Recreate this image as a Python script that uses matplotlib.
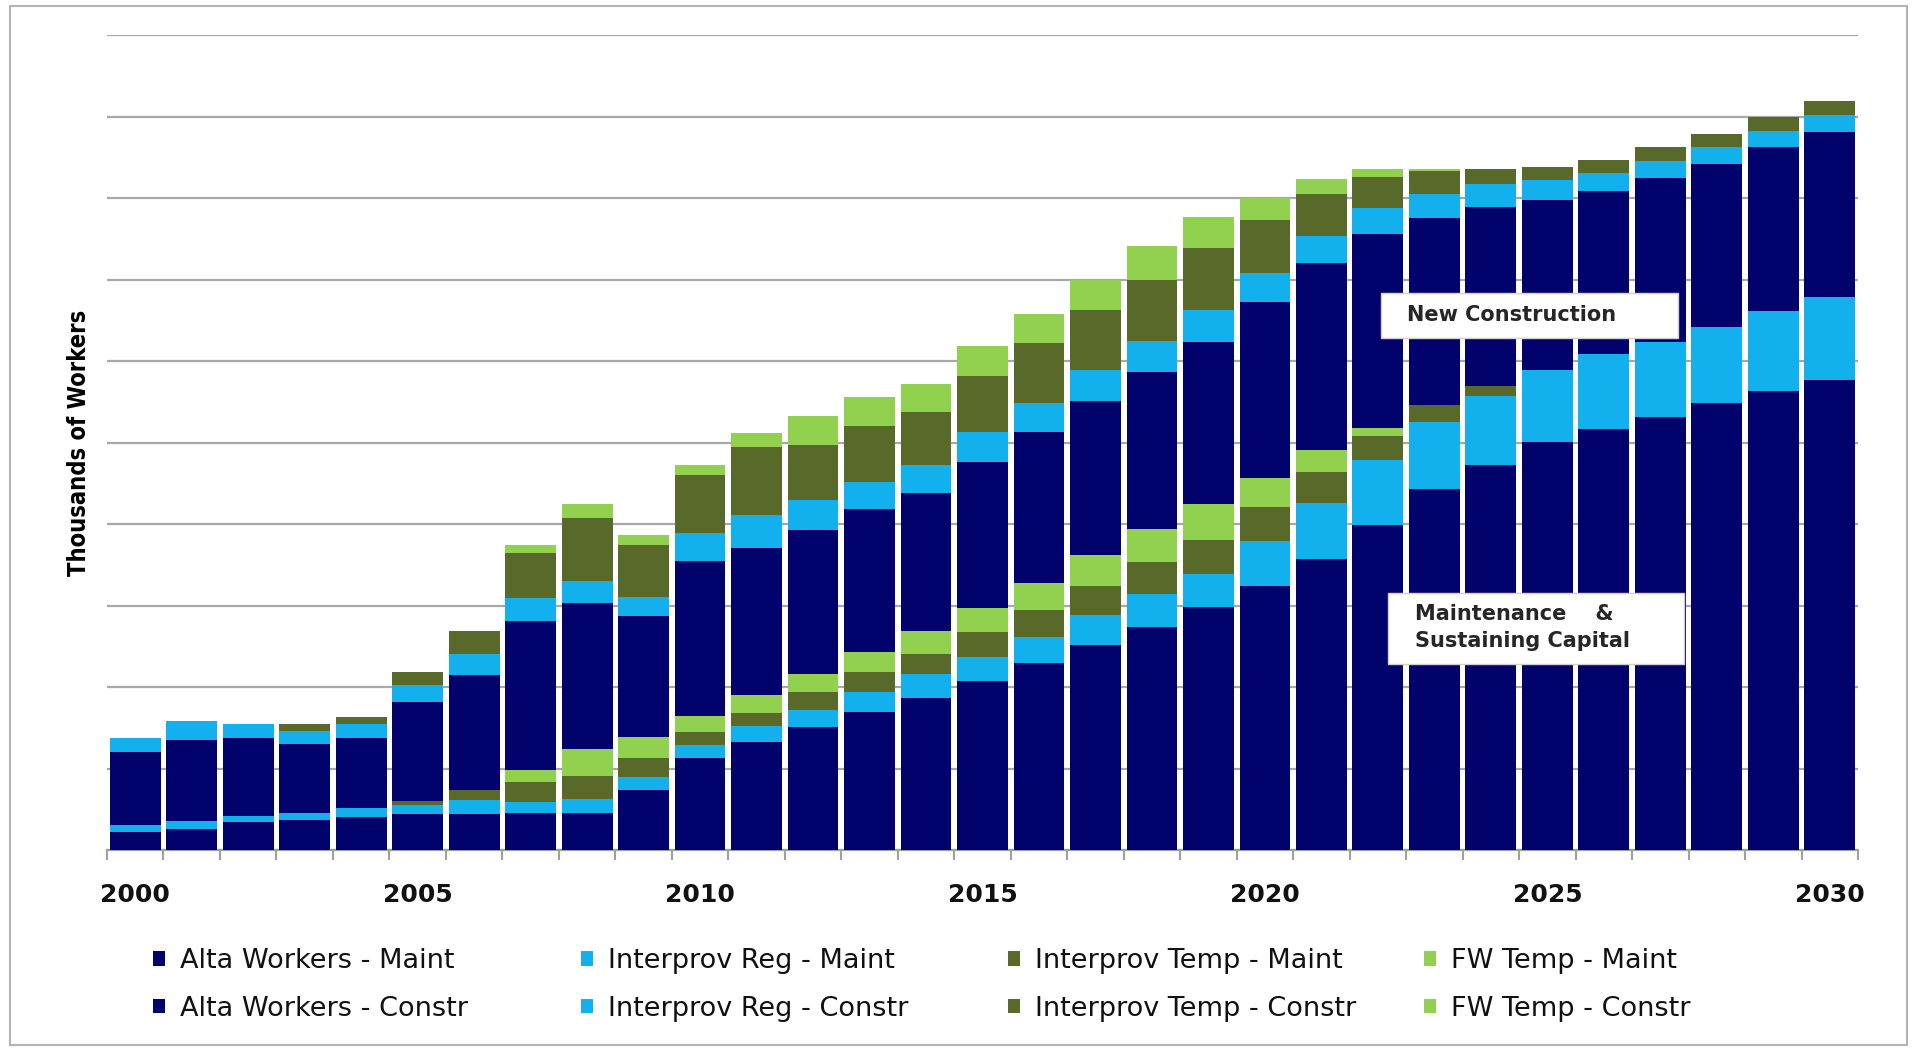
import numpy as np
import matplotlib
matplotlib.use('Agg')
import matplotlib.pyplot as plt
from matplotlib.patches import Rectangle, Patch

years = list(range(2000, 2031))
tick_years = [2000, 2005, 2010, 2015, 2020, 2025, 2030]

alta_maint = [2.2, 2.6, 3.4, 3.7, 4.1, 4.4, 4.4, 4.6, 4.6, 7.4, 11.3, 13.2, 15.1, 16.9, 18.7, 20.7,
              22.9, 25.1, 27.4, 29.8, 32.4, 35.7, 39.9, 44.3, 47.2, 50.1, 51.6, 53.1, 54.8, 56.3, 57.7]
ir_maint = [0.9, 1.0, 0.8, 0.9, 1.0, 1.1, 1.7, 1.3, 1.6, 1.6, 1.6, 2.0, 2.1, 2.5, 2.9, 3.0,
            3.2, 3.7, 4.0, 4.1, 5.5, 6.9, 8.0, 8.2, 8.5, 8.8, 9.2, 9.2, 9.4, 9.8, 10.2]
it_maint = [0, 0, 0, 0, 0, 0.5, 1.3, 2.5, 2.9, 2.3, 1.6, 1.6, 2.2, 2.4, 2.5, 3.0,
            3.4, 3.6, 3.9, 4.1, 4.2, 3.8, 2.9, 2.1, 1.2, 0, 0, 0, 0, 0, 0]
fw_maint = [0, 0, 0, 0, 0, 0, 0, 1.4, 3.3, 2.6, 1.9, 2.2, 2.2, 2.5, 2.8, 3.0,
            3.2, 3.8, 4.1, 4.5, 3.5, 2.7, 1.0, 0, 0, 0, 0, 0, 0, 0, 0]
alta_constr = [8.9, 9.9, 9.5, 8.4, 8.7, 12.2, 14.1, 18.3, 17.9, 14.8, 19.1, 18.1, 17.7, 17.5, 16.9, 17.9,
               18.6, 18.9, 19.2, 19.8, 21.7, 22.9, 23.8, 22.9, 22.0, 20.8, 20.0, 20.2, 20.0, 20.2, 20.2]
ir_constr = [1.8, 2.3, 1.8, 1.6, 1.6, 2.1, 2.6, 2.8, 2.7, 2.4, 3.4, 4.0, 3.6, 3.4, 3.5, 3.7,
             3.6, 3.8, 3.8, 3.9, 3.5, 3.3, 3.2, 3.0, 2.8, 2.5, 2.3, 2.1, 2.1, 1.9, 2.1]
it_constr = [0, 0, 0, 0.8, 0.9, 1.6, 2.8, 5.6, 7.7, 6.3, 7.1, 8.3, 6.8, 6.8, 6.5, 6.9,
             7.3, 7.3, 7.6, 7.7, 6.5, 5.2, 3.8, 2.8, 1.9, 1.6, 1.6, 1.6, 1.6, 1.7, 1.7]
fw_constr = [0, 0, 0, 0, 0, 0, 0, 0.9, 1.8, 1.2, 1.2, 1.8, 3.6, 3.6, 3.4, 3.6,
             3.6, 3.8, 4.1, 3.8, 2.7, 1.8, 1.0, 0.3, 0, 0, 0, 0, 0, 0, 0]

labels = ['Alta Workers - Maint', 'Interprov Reg - Maint', 'Interprov Temp - Maint', 'FW Temp - Maint',
          'Alta Workers - Constr', 'Interprov Reg - Constr', 'Interprov Temp - Constr', 'FW Temp - Constr']

NAVY = '#02026c'
LBLUE = '#12b0ec'
DGREEN = '#58692a'
LGREEN = '#92d050'
colors = [NAVY, LBLUE, DGREEN, LGREEN, NAVY, LBLUE, DGREEN, LGREEN]
series = [alta_maint, ir_maint, it_maint, fw_maint, alta_constr, ir_constr, it_constr, fw_constr]

W, H = 1916, 1048
fig = plt.figure(figsize=(W / 100, H / 100), dpi=100)
fig.patch.set_facecolor('white')

ax = fig.add_axes([107 / W, 1 - 850 / H, (1858 - 107) / W, (850 - 35) / H])
x = np.arange(len(years))
bottom = np.zeros(len(years))
for vals, lab, col in zip(series, labels, colors):
    v = np.array(vals, dtype=float)
    ax.bar(x, v, bottom=bottom, width=0.9, color=col, label=lab, zorder=3, linewidth=0)
    bottom += v

ax.set_xlim(-0.5, len(years) - 0.5)
ax.set_ylim(0, 100)
ax.set_yticks(np.arange(0, 101, 10))
ax.set_yticklabels([])
ax.tick_params(axis='y', length=0)
ax.yaxis.grid(True, color='#a8a8a8', linewidth=1.6, zorder=0)
ax.set_axisbelow(True)
for s in ['left', 'right', 'top']:
    ax.spines[s].set_visible(False)
ax.spines['bottom'].set_color('#a0a0a0')
ax.spines['bottom'].set_linewidth(1.6)

ax.set_xticks([years.index(y) for y in tick_years])
ax.set_xticklabels([str(y) for y in tick_years], fontsize=18, fontweight='bold', color='#111111')
ax.tick_params(axis='x', which='major', length=0, pad=24)
ax.set_xticks(np.arange(-0.5, len(years), 1), minor=True)
ax.tick_params(axis='x', which='minor', length=7, width=1.5, color='#a0a0a0')

fig.text(79 / W, 1 - 443 / H, 'Thousands of Workers', rotation=90, ha='center', va='center',
         fontsize=17, fontweight='bold', fontstretch='condensed', family='DejaVu Sans')

# annotation boxes
ax.add_patch(Rectangle((0.7276, 0.6282), 0.8972 - 0.7276, 0.6834 - 0.6282, transform=ax.transAxes,
                       facecolor='white', edgecolor='#d0d0d0', linewidth=1, zorder=5))
ax.text(0.7424, 0.6564, 'New Construction', transform=ax.transAxes, fontsize=15, fontweight='bold',
        color='#262626', ha='left', va='center', zorder=6)
ax.add_patch(Rectangle((0.7316, 0.2282), 0.9006 - 0.7316, 0.3153 - 0.2282, transform=ax.transAxes,
                       facecolor='white', edgecolor='#d0d0d0', linewidth=1, zorder=5))
ax.text(0.747, 0.2890, 'Maintenance    &', transform=ax.transAxes, fontsize=15, fontweight='bold',
        color='#262626', ha='left', va='center', zorder=6)
ax.text(0.747, 0.2570, 'Sustaining Capital', transform=ax.transAxes, fontsize=15, fontweight='bold',
        color='#262626', ha='left', va='center', zorder=6)

# legend: four columns, maintenance row on top, construction row below
col_x = [153, 581, 1008, 1424]
for j in range(4):
    hs = [Patch(facecolor=colors[j], edgecolor='none'), Patch(facecolor=colors[j + 4], edgecolor='none')]
    fig.legend(hs, [labels[j], labels[j + 4]], loc='upper left',
               bbox_to_anchor=(col_x[j] / W, 1 - 948 / H), frameon=False, fontsize=19.5,
               handlelength=0.45, handleheight=0.45, handletextpad=0.55, borderpad=0,
               borderaxespad=0, labelspacing=0.8, labelcolor='#111111')

# outer frame
fig.patches.append(Rectangle((10 / W, 1 - 1045 / H), (1907 - 10) / W, (1045 - 6) / H,
                             transform=fig.transFigure, fill=False, edgecolor='#b4b4b4', linewidth=1.5))

fig.savefig('out.png', dpi=100, facecolor='white')
